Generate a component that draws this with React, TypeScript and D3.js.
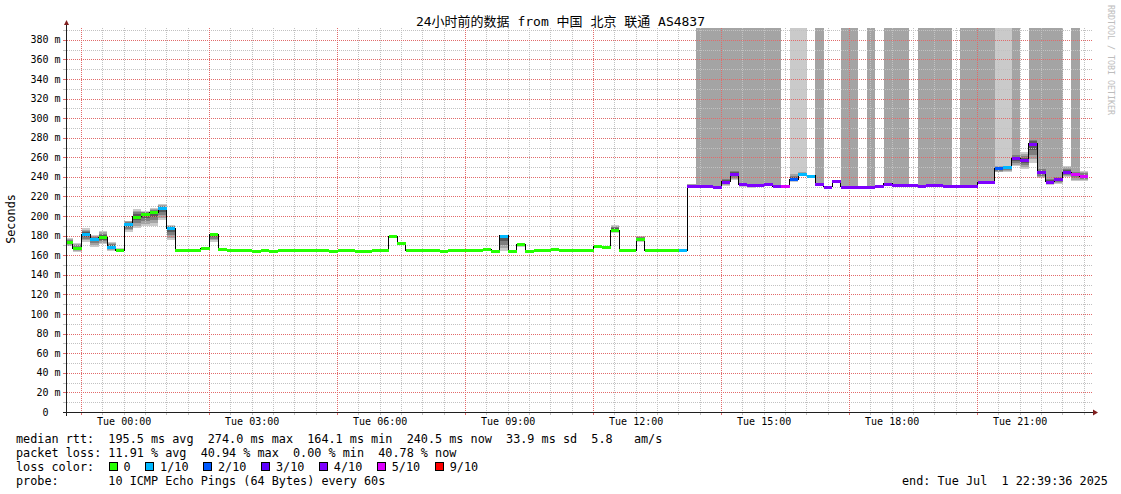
import React from "react";
import * as d3 from "d3";

// ---------------- data ----------------
const titleText = "24小时前的数据 from 中国 北京 联通 AS4837";
const yAxisTitle = "Seconds";
const watermark = "RRDTOOL / TOBI OETIKER";
const endTime = new Date(2025, 6, 1, 22, 39, 36);
const startTime = new Date(endTime.getTime() - 24 * 3600 * 1000);
const firstStepStart = new Date(2025, 5, 30, 22, 36, 0);
const stepMinutes = 12;

const xTickHours = [0, 3, 6, 9, 12, 15, 18, 21];
const xTickLabels = ["Tue 00:00", "Tue 03:00", "Tue 06:00", "Tue 09:00", "Tue 12:00", "Tue 15:00", "Tue 18:00", "Tue 21:00"];
const yTickValues = [0, 20, 40, 60, 80, 100, 120, 140, 160, 180, 200, 220, 240, 260, 280, 300, 320, 340, 360, 380];
const yTickLabels = ["0", "20 m", "40 m", "60 m", "80 m", "100 m", "120 m", "140 m", "160 m", "180 m", "200 m", "220 m", "240 m", "260 m", "280 m", "300 m", "320 m", "340 m", "360 m", "380 m"];

// median RTT (ms) per 12-minute step
const medianRtt = [
  173.8, 167.0, 181.3, 176.9, 178.2, 168.7, 165.0, 191.8, 199.3, 201.7,
  203.7, 208.5, 187.8, 165.0, 165.0, 165.0, 167.0, 181.3, 166.3, 165.0,
  165.0, 165.0, 164.1, 165.0, 164.1, 165.0, 165.0, 165.0, 165.0, 165.0,
  165.0, 164.1, 165.0, 165.0, 164.1, 164.1, 165.0, 165.0, 179.6, 172.1,
  165.0, 165.0, 165.0, 165.0, 164.1, 165.0, 165.0, 165.0, 165.0, 166.3,
  164.4, 179.9, 164.4, 171.4, 164.4, 165.0, 165.0, 166.3, 165.0, 165.5,
  165.5, 165.0, 169.4, 168.4, 185.7, 165.0, 165.0, 176.5, 165.0, 165.0,
  165.0, 165.0, 165.0, 230.3, 230.6, 230.6, 229.3, 235.0, 242.9, 232.3,
  231.6, 231.9, 232.9, 230.3, 230.6, 237.8, 242.5, 241.2, 232.6, 229.9,
  235.4, 229.9, 229.9, 229.9, 229.9, 230.9, 233.0, 232.0, 232.0, 232.0,
  230.9, 232.0, 231.3, 231.0, 231.0, 231.0, 231.0, 234.7, 234.7, 248.7,
  249.7, 259.2, 257.1, 274.0, 244.6, 235.0, 238.0, 244.9, 242.5, 240.5,
];
// loss bin index per step (0 = 0, 1 = 1/10, 2 = 2/10, 3 = 3/10, 4 = 4/10, 5 = 5/10, 6 = 9/10)
const lossBin = [
  0, 0, 1, 1, 0, 1, 0, 1, 0, 0,
  0, 1, 1, 0, 0, 0, 0, 0, 0, 0,
  0, 0, 0, 0, 0, 0, 0, 0, 0, 0,
  0, 0, 0, 0, 0, 0, 0, 0, 0, 0,
  0, 0, 0, 0, 0, 0, 0, 0, 0, 0,
  0, 1, 0, 0, 0, 0, 0, 0, 0, 0,
  0, 0, 0, 0, 0, 0, 0, 0, 0, 0,
  0, 0, 1, 4, 4, 4, 4, 4, 4, 4,
  4, 4, 4, 4, 5, 2, 1, 1, 4, 4,
  4, 4, 4, 4, 4, 4, 4, 4, 4, 4,
  4, 4, 4, 4, 4, 4, 4, 4, 4, 2,
  1, 4, 4, 4, 4, 4, 4, 4, 5, 5,
];
// smoke extent (ms) per step
const smokeLow = [
  169.0, 163.6, 173.8, 168.7, 171.4, 164.6, 164.5, 184.0, 188.1, 190.0,
  190.1, 195.9, 175.5, 165.0, 165.0, 165.0, 166.0, 173.8, 165.5, 165.0,
  165.0, 165.0, 164.1, 165.0, 164.1, 165.0, 165.0, 165.0, 165.0, 165.0,
  165.0, 164.1, 165.0, 165.0, 164.1, 164.1, 165.0, 165.0, 178.5, 171.0,
  165.0, 165.0, 165.0, 165.0, 164.1, 165.0, 165.0, 165.0, 165.0, 166.3,
  164.4, 164.5, 164.4, 168.5, 164.4, 165.0, 165.0, 166.3, 165.0, 165.5,
  165.5, 165.0, 168.5, 167.0, 183.0, 165.0, 165.0, 173.8, 165.0, 165.0,
  165.0, 165.0, 165.0, 229.5, 229.8, 229.8, 228.5, 231.0, 236.7, 230.0,
  229.0, 230.5, 231.0, 229.5, 229.8, 235.0, 241.0, 240.5, 231.0, 229.3,
  234.5, 229.3, 229.3, 229.3, 229.3, 230.3, 232.0, 231.3, 231.3, 231.3,
  230.3, 231.3, 230.5, 230.5, 230.5, 230.5, 230.5, 233.0, 233.0, 244.5,
  244.5, 251.0, 248.0, 253.8, 238.4, 232.0, 233.0, 240.0, 236.0, 236.0,
];
const smokeHigh = [
  177.5, 172.8, 187.4, 180.6, 184.7, 173.8, 167.0, 195.2, 207.1, 205.4,
  208.5, 212.2, 190.8, 165.0, 165.0, 166.5, 168.5, 182.6, 167.5, 165.0,
  165.0, 165.0, 164.1, 165.0, 164.1, 165.0, 165.0, 165.0, 165.0, 165.0,
  165.0, 164.1, 165.0, 165.0, 164.1, 164.1, 165.0, 165.0, 180.5, 173.0,
  165.0, 165.0, 165.0, 165.0, 164.1, 165.0, 165.0, 165.0, 165.0, 166.3,
  164.4, 180.5, 164.4, 172.0, 164.4, 165.0, 165.0, 166.3, 165.0, 165.5,
  165.5, 165.0, 170.0, 169.5, 191.0, 165.0, 166.5, 179.6, 165.0, 166.5,
  166.5, 165.0, 165.0, 233.0, 232.0, 232.0, 231.0, 240.0, 248.0, 234.0,
  234.0, 233.0, 235.0, 231.5, 231.5, 244.0, 245.0, 242.0, 234.0, 230.5,
  236.5, 230.5, 230.5, 230.5, 230.5, 231.5, 234.0, 232.8, 232.8, 232.8,
  231.5, 232.8, 231.8, 231.8, 231.8, 231.8, 231.8, 236.5, 237.0, 252.0,
  251.0, 264.0, 265.0, 281.0, 250.3, 240.0, 242.0, 251.0, 246.0, 246.0,
];
// pings beyond the graph top: 0 none, 1 outermost ping, 2 two pings
const overflowBand = [
  0, 0, 0, 0, 0, 0, 0, 0, 0, 0,
  0, 0, 0, 0, 0, 0, 0, 0, 0, 0,
  0, 0, 0, 0, 0, 0, 0, 0, 0, 0,
  0, 0, 0, 0, 0, 0, 0, 0, 0, 0,
  0, 0, 0, 0, 0, 0, 0, 0, 0, 0,
  0, 0, 0, 0, 0, 0, 0, 0, 0, 0,
  0, 0, 0, 0, 0, 0, 0, 0, 0, 0,
  0, 0, 0, 0, 2, 2, 2, 2, 2, 2,
  2, 2, 2, 2, 0, 1, 1, 0, 2, 0,
  0, 2, 2, 0, 2, 0, 2, 2, 2, 0,
  2, 2, 2, 2, 0, 2, 2, 2, 2, 1,
  1, 2, 0, 2, 2, 2, 2, 0, 2, 0,
];

const lossColors = ["#26ff00", "#00b8ff", "#0059ff", "#5e00ff", "#7e00ff", "#dd00ff", "#ff0000"];
const lossLabels = ["0", "1/10", "2/10", "3/10", "4/10", "5/10", "9/10"];
const rttStats = ["195.5 ms avg", "274.0 ms max", "164.1 ms min", "240.5 ms now", "33.9 ms sd", "5.8   am/s"];
const lossStats = ["11.91 % avg", "40.94 % max", "0.00 % min", "40.78 % now"];
const probeText = "10 ICMP Echo Pings (64 Bytes) every 60s";
const endText = "end: Tue Jul  1 22:39:36 2025";

// ---------------- layout ----------------
const W = 1121, H = 494;
const X0 = 67, X1 = 1091, Y0 = 412, YT = 28;
const MONO = "'DejaVu Sans Mono', monospace";
const TITLE_FONT = "'DejaVu Sans Mono', 'Noto Sans CJK SC', monospace";
const AX_FS = 10;
const LG_FS = 11.8;
const CW = LG_FS * 0.602;
const MGRID = "#e26a6a";
const GRID = "#c2c2c2";
const smokeLayers = [
  { f: 1, color: "#cacaca" },
  { f: 0.8, color: "#a4a4a4" },
  { f: 0.58, color: "#7e7e7e" },
  { f: 0.32, color: "#585858" },
];

export default function App() {
  const x = d3.scaleTime().domain([startTime, endTime]).range([X0, X1]);
  const y = d3.scaleLinear().domain([0, 392]).range([Y0, YT]);
  const stepMs = stepMinutes * 60 * 1000;

  const steps = medianRtt.map((m, i) => {
    const t0 = new Date(firstStepStart.getTime() + i * stepMs);
    const t1 = new Date(t0.getTime() + stepMs);
    return { m, i, x0: x(t0), x1: x(t1), lo: smokeLow[i], hi: smokeHigh[i], loss: lossBin[i], ov: overflowBand[i] };
  });

  const midnight = new Date(2025, 6, 1, 0, 0, 0);
  const minuteDate = (mm: number) => new Date(midnight.getTime() + mm * 60000);
  const minorV: number[] = [];
  const majorV: number[] = [];
  for (let mm = -60; mm <= 1350; mm += 30) {
    const px = x(minuteDate(mm));
    if (px < X0 || px > X1) continue;
    if ((mm + 60) % 180 === 0) majorV.push(px);
    else minorV.push(px);
  }
  const minorH: number[] = [];
  const majorH: number[] = [];
  for (let v = 10; v <= 390; v += 10) {
    if (v % 20 === 0) majorH.push(y(v));
    else minorH.push(y(v));
  }

  const linePts: [number, number][] = steps.map((s) => [s.x0, y(s.m)]);
  const last = steps[steps.length - 1];
  linePts.push([last.x1, y(last.m)]);
  const medianPath = d3.line().curve(d3.curveStepAfter)(linePts) || "";

  const fx = (v: number) => Math.floor(v) + 0.5;
  const fy = (v: number) => Math.round(v) + 0.5;

  // legend boxes
  let bx = 108.5;
  const boxes = lossLabels.map((lab, i) => {
    const b = { x: bx, lab, color: lossColors[i] };
    bx += 15 + lab.length * CW + 14.5;
    return b;
  });

  return (
    <svg width={W} height={H} style={{ position: "absolute", left: 0, top: 0, background: "#fff" }}>
      <rect x={0} y={0} width={W} height={H} fill="#fff" />
      <defs>
        <clipPath id="plot">
          <rect x={X0} y={YT} width={X1 - X0} height={Y0 - YT} />
        </clipPath>
      </defs>

      {/* title */}
      <text x={560.5} y={26} textAnchor="middle" fontFamily={TITLE_FONT} fontSize={13} fill="#000" style={{ whiteSpace: "pre" }}>
        {titleText}
      </text>
      {/* watermark */}
      <text transform={`translate(1108,5) rotate(90)`} fontFamily={MONO} fontSize={8.3} fill="#bdbdbd">
        {watermark}
      </text>
      {/* y axis title */}
      <text transform={`translate(15,219) rotate(-90)`} textAnchor="middle" fontFamily={MONO} fontSize={LG_FS} fill="#000">
        {yAxisTitle}
      </text>

      <g clipPath="url(#plot)" shapeRendering="crispEdges">
        {/* overflow columns */}
        {steps.filter((s) => s.ov > 0).map((s) => (
          <rect key={"ov" + s.i} x={s.x0} y={YT} width={s.x1 - s.x0} height={y(s.m) - YT}
            fill={s.ov === 2 ? "#a4a4a4" : "#cacaca"} />
        ))}
        {/* smoke */}
        {smokeLayers.map((L, j) => (
          <g key={"L" + j} fill={L.color}>
            {steps.map((s) => {
              const up = s.m + (s.hi - s.m) * L.f;
              const dn = s.m - (s.m - s.lo) * L.f;
              const els = [];
              if (up > s.m && !(s.ov === 2 && j === 0))
                els.push(<rect key={"u" + s.i} x={s.x0} y={y(up)} width={s.x1 - s.x0} height={y(s.m) - y(up)} />);
              if (dn < s.m)
                els.push(<rect key={"d" + s.i} x={s.x0} y={y(s.m)} width={s.x1 - s.x0} height={y(dn) - y(s.m)} />);
              return els;
            })}
          </g>
        ))}
      </g>

      {/* grid */}
      <g strokeWidth={1} shapeRendering="crispEdges">
        {minorH.map((v, i) => (
          <g key={"mh" + i}>
            <line x1={X0} x2={X1 + 2} y1={fy(v)} y2={fy(v)} stroke={GRID} strokeDasharray="1 1" />
            <line x1={63} x2={X0} y1={fy(v)} y2={fy(v)} stroke={GRID} />
          </g>
        ))}
        {minorV.map((v, i) => (
          <g key={"mv" + i}>
            <line x1={fx(v)} x2={fx(v)} y1={YT} y2={Y0} stroke={GRID} strokeDasharray="1 1" />
            <line x1={fx(v)} x2={fx(v)} y1={Y0} y2={Y0 + 3} stroke={GRID} />
          </g>
        ))}
        {majorH.map((v, i) => (
          <g key={"Mh" + i}>
            <line x1={X0} x2={X1 + 2} y1={fy(v)} y2={fy(v)} stroke={MGRID} strokeDasharray="1 1" />
            <line x1={63} x2={X0} y1={fy(v)} y2={fy(v)} stroke={MGRID} />
          </g>
        ))}
        {majorV.map((v, i) => (
          <g key={"Mv" + i}>
            <line x1={fx(v)} x2={fx(v)} y1={YT} y2={Y0} stroke={MGRID} strokeDasharray="1 1" />
            <line x1={fx(v)} x2={fx(v)} y1={Y0} y2={Y0 + 3} stroke={MGRID} />
          </g>
        ))}
      </g>

      {/* median line and loss bands */}
      <g clipPath="url(#plot)">
        <path d={medianPath} fill="none" stroke="#000" strokeWidth={1} shapeRendering="crispEdges" />
        {steps.map((s) => (
          <rect key={"b" + s.i} x={s.x0} y={Math.round(y(s.m)) - 1.5} width={s.x1 - s.x0} height={3}
            fill={lossColors[s.loss]} shapeRendering="crispEdges" />
        ))}
      </g>

      {/* axes */}
      <g shapeRendering="crispEdges">
        <line x1={63} x2={1093} y1={Y0 + 0.5} y2={Y0 + 0.5} stroke="#1f1f1f" />
        <line x1={X0 - 0.5} x2={X0 - 0.5} y1={Y0 + 4} y2={25} stroke="#1f1f1f" />
      </g>
      <polygon points={`${X0 - 3},25 ${X0 + 2},25 ${X0 - 0.5},20`} fill="#801f1f" />
      <polygon points={`1093,409.5 1093,415.5 1098,412.5`} fill="#801f1f" />

      {/* y tick labels */}
      {yTickValues.map((v, i) => (
        <text key={"yl" + i} x={yTickLabels[i].indexOf("m") >= 0 ? 60.5 : 48.5} y={y(v) + 3.6}
          textAnchor="end" fontFamily={MONO} fontSize={AX_FS} fill="#000">
          {yTickLabels[i]}
        </text>
      ))}
      {/* x tick labels */}
      {xTickHours.map((h, i) => (
        <text key={"xl" + i} x={x(new Date(2025, 6, 1, h, 0, 0))} y={425} textAnchor="middle"
          fontFamily={MONO} fontSize={AX_FS} fill="#000">
          {xTickLabels[i]}
        </text>
      ))}

      {/* legend */}
      <g fontFamily={MONO} fontSize={LG_FS} fill="#000" style={{ whiteSpace: "pre" }}>
        <text x={16} y={442.5} style={{ whiteSpace: "pre" }}>{"median rtt:  " + rttStats.join("  ")}</text>
        <text x={16} y={456.5} style={{ whiteSpace: "pre" }}>{"packet loss: " + lossStats.join("  ")}</text>
        <text x={16} y={470.5} style={{ whiteSpace: "pre" }}>{"loss color:"}</text>
        {boxes.map((b, i) => (
          <g key={"bx" + i}>
            <rect x={Math.round(b.x) + 0.5} y={462.5} width={8} height={8} fill={b.color} stroke="#000" strokeWidth={1} shapeRendering="crispEdges" />
            <text x={b.x + 15} y={470.5}>{b.lab}</text>
          </g>
        ))}
        <text x={16} y={484.5} style={{ whiteSpace: "pre" }}>{"probe:       " + probeText}</text>
        <text x={902} y={484.5} style={{ whiteSpace: "pre" }}>{endText}</text>
      </g>
    </svg>
  );
}
